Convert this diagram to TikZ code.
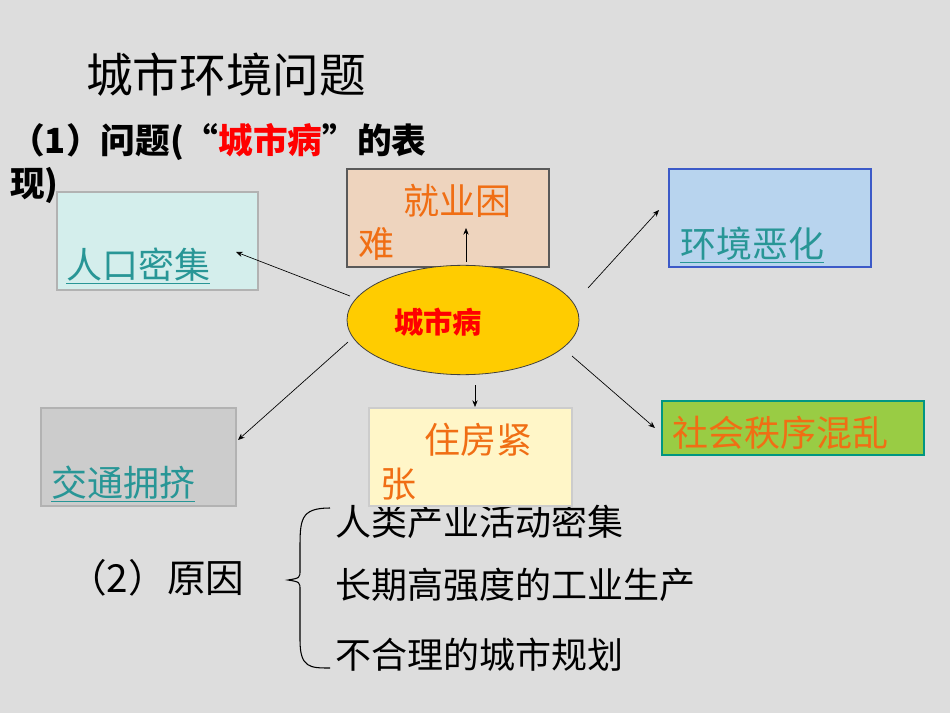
\documentclass[tikz,border=0pt]{standalone}
\usepackage{fontspec}
\setmainfont{Noto Sans CJK SC}
\usetikzlibrary{arrows.meta,shapes.geometric}
\definecolor{bg}{RGB}{221,221,221}
\definecolor{org}{RGB}{240,110,20}
\definecolor{tl}{RGB}{40,150,150}
\definecolor{peach}{RGB}{238,212,190}
\definecolor{cyanl}{RGB}{212,238,236}
\definecolor{bluel}{RGB}{184,212,238}
\definecolor{blued}{RGB}{60,90,200}
\definecolor{grayf}{RGB}{204,204,204}
\definecolor{yell}{RGB}{255,246,200}
\definecolor{grn}{RGB}{153,204,68}
\definecolor{grnd}{RGB}{0,150,130}
\definecolor{gold}{RGB}{255,204,0}
\tikzset{
 box/.style={draw=#1,line width=0.8pt},
 lab/.style={anchor=west,inner sep=0pt,font=\fontsize{27}{30}\selectfont},
 con/.style={-{Stealth[length=5pt,width=4pt]},line width=0.5pt},
 lnk/.style={lab,text=tl},
}
\begin{document}
\begin{tikzpicture}[x=0.75pt,y=-0.75pt]
\fill[bg] (0,0) rectangle (950,713);
\useasboundingbox (0,0) rectangle (950,713);
\node[anchor=west,inner sep=0pt,font=\fontsize{35}{38}\selectfont] (title) at (86,75) {城市环境问题};
\node[anchor=west,inner sep=0pt,font=\bfseries\fontsize{26}{28}\selectfont] (h1) at (10,142) {（1）问题(“\textcolor{red}{城市病}”的表};
\node[anchor=west,inner sep=0pt,font=\bfseries\fontsize{26}{28}\selectfont] (h1b) at (10,185) {现)};
% list
\node[lab,text=black] (r1) at (335,522) {人类产业活动密集};
\node[lab,text=black] (r2) at (335,585) {长期高强度的工业生产};
\node[lab,text=black] (r3) at (335,655) {不合理的城市规划};
\node[anchor=west,inner sep=0pt,font=\fontsize{29}{32}\selectfont] (h2) at (68,578) {（2）原因};
\draw[line width=0.8pt] (330,508) .. controls (300,508) and (300,520) .. (300,550) -- (300,570) .. controls (300,578) .. (288,580) .. controls (300,582) .. (300,590) -- (300,640) .. controls (300,668) and (310,668) .. (330,668);
% boxes
\draw[box=gray!70!black,fill=peach] (347,169) rectangle (549,267);
\node[lab,text=org,anchor=center] (b1) at (457,201) {就业困};
\node[lab,text=org] (b1b) at (358,244) {难};
\draw[box=gray!60,fill=cyanl] (57,192) rectangle (258,290);
\node[lnk] (b2) at (66,266) {\underline{人口密集}};
\draw[box=blued,fill=bluel] (669,169) rectangle (871,267);
\node[lnk] (b3) at (680,245) {\underline{环境恶化}};
\draw[box=gray!60,fill=grayf] (41,408) rectangle (236,506);
\node[lnk] (b4) at (51,484) {\underline{交通拥挤}};
\draw[box=gray!40,fill=yell] (369,408) rectangle (572,506);
\node[lab,text=org,anchor=center] (b5) at (478,440) {住房紧};
\node[lab,text=org] (b5b) at (380,484) {张};
\draw[box=grnd,fill=grn] (662,401) rectangle (924,455);
\node[lab,text=org] (b6) at (672,433) {社会秩序混乱};
\node[ellipse,draw=gray!50!black,fill=gold,minimum width=174pt,minimum height=82pt,inner sep=0pt,line width=0.6pt] (e) at (463,320) {};
\node[inner sep=0pt,text=red,font=\bfseries\fontsize{22}{24}\selectfont] (et) at (438,322) {城市病};
\coordinate (a1s) at (350,296); \coordinate (a1e) at (236,252);
\coordinate (a2s) at (466,262); \coordinate (a2e) at (466,228);
\coordinate (a3s) at (588,288); \coordinate (a3e) at (659,210);
\coordinate (a4s) at (475,385); \coordinate (a4e) at (475,407);
\coordinate (a5s) at (348,342); \coordinate (a5e) at (238,440);
\coordinate (a6s) at (572,356); \coordinate (a6e) at (655,428);
\foreach \i in {1,...,6} \draw[con] (a\i s) -- (a\i e);
\end{tikzpicture}
\end{document}
